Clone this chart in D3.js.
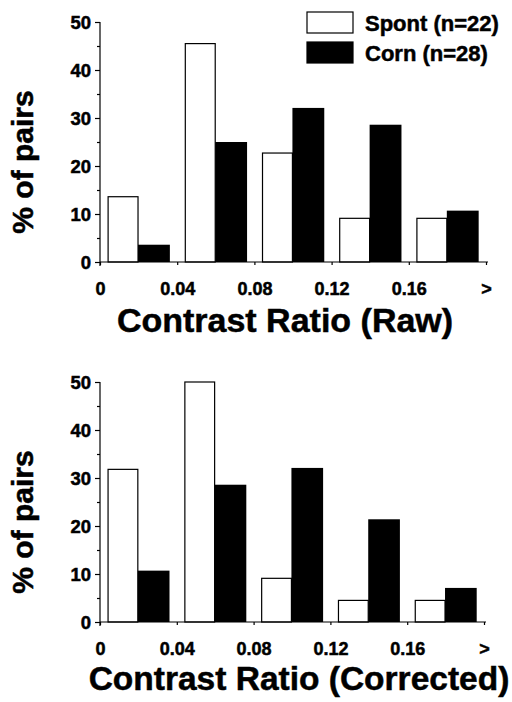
<!DOCTYPE html>
<html>
<head>
<meta charset="utf-8">
<script src="https://cdn.jsdelivr.net/npm/d3@7"></script>
<style>
    body { margin: 0; background: #fff; }
    svg text { font-family: "Liberation Sans", Arial, sans-serif; font-weight: bold; fill: #000; stroke: #000; stroke-width: 0.5px; }
</style>
</head>
<body>
<script>
    // bins start at these contrast ratio values (width 0.04)
    var bins = [0, 0.04, 0.08, 0.12, 0.16];
    var tickValues = [0, 0.04, 0.08, 0.12, 0.16, 0.2];
    var tickLabels = ['0', '0.04', '0.08', '0.12', '0.16', '>'];
    var yTicks = [0, 10, 20, 30, 40, 50];
    var yMinor = [5, 15, 25, 35, 45];

    var rawSpont = [13.6, 45.5, 22.7, 9.1, 9.1];
    var rawCorn = [3.6, 25.0, 32.1, 28.6, 10.7];
    var corSpont = [31.8, 50.0, 9.1, 4.5, 4.5];
    var corCorn = [10.7, 28.6, 32.1, 21.4, 7.1];

    var seriesNames = ['Spont (n=22)', 'Corn (n=28)'];

    var svg = d3.select('body').append('svg')
        .attr('width', 512)
        .attr('height', 702);

    function panel(spont, corn, yTop, yBottom, xRight, title, titleX, titleY, titleSize) {
        var x = d3.scaleLinear().domain([0, 0.2]).range([100, xRight]);
        var y = d3.scaleLinear().domain([0, 50]).range([yBottom, yTop]);
        var g = svg.append('g');

        // white bars then black bars
        g.selectAll('rect.spont')
            .data(bins.map((b, i) => ({b: b, v: spont[i]})))
            .enter().append('rect')
            .attr('class', 'spont')
            .attr('x', d => x(d.b + 0.0042))
            .attr('width', d => x(0.0155) - x(0))
            .attr('y', d => y(d.v))
            .attr('height', d => y(0) - y(d.v))
            .attr('fill', '#fff')
            .attr('stroke', '#000')
            .attr('stroke-width', 1.2);
        g.selectAll('rect.corn')
            .data(bins.map((b, i) => ({b: b, v: corn[i]})))
            .enter().append('rect')
            .attr('class', 'corn')
            .attr('x', d => x(d.b + 0.0197))
            .attr('width', d => x(0.0165) - x(0))
            .attr('y', d => y(d.v))
            .attr('height', d => y(0) - y(d.v))
            .attr('fill', '#000');

        // x axis
        var xAxis = g.append('g')
            .attr('transform', 'translate(0,' + y(0) + ')')
            .call(d3.axisBottom(x).tickValues(tickValues).tickSize(3).tickFormat((d, i) => tickLabels[i]));
        xAxis.select('.domain').attr('d', 'M' + x(0) + ',0H' + (xRight + 2));
        xAxis.selectAll('text')
            .style('font-size', '18px')
            .attr('dy', 0)
            .attr('y', 33);

        // y axis
        var yAxis = g.append('g')
            .attr('transform', 'translate(' + x(0) + ',0)')
            .call(d3.axisLeft(y).tickValues(yTicks).tickSize(5));
        yAxis.select('.domain').attr('d', 'M0,' + y(50) + 'V' + (y(0) + 4));
        yAxis.selectAll('text')
            .style('font-size', '18.5px')
            .attr('dy', '0.36em')
            .attr('x', -9);
        g.append('g')
            .attr('transform', 'translate(' + x(0) + ',0)')
            .call(d3.axisLeft(y).tickValues(yMinor).tickSize(3).tickFormat(''))
            .select('.domain').remove();

        g.selectAll('.domain, .tick line').attr('stroke', '#000').attr('stroke-width', 1.2);

        g.append('text')
            .attr('transform', 'translate(33,' + ((yTop + yBottom) / 2 + 20) + ') rotate(-90)')
            .attr('text-anchor', 'middle')
            .style('font-size', '30px')
            .text('% of pairs');

        g.append('text')
            .attr('x', titleX)
            .attr('y', titleY)
            .attr('text-anchor', 'middle')
            .style('font-size', titleSize + 'px')
            .text(title);
    }

    panel(rawSpont, rawCorn, 22, 262, 486, 'Contrast Ratio (Raw)', 285, 332, 34);
    panel(corSpont, corCorn, 382, 622, 484, 'Contrast Ratio (Corrected)', 299, 690, 33.5);

    // legend
    var legend = svg.append('g');
    legend.selectAll('rect')
        .data(seriesNames)
        .enter().append('rect')
        .attr('x', 307)
        .attr('y', (d, i) => 12 + i * 30)
        .attr('width', 46)
        .attr('height', 21)
        .attr('fill', (d, i) => i === 0 ? '#fff' : '#000')
        .attr('stroke', '#000')
        .attr('stroke-width', 1.2);
    legend.selectAll('text')
        .data(seriesNames)
        .enter().append('text')
        .attr('x', 365)
        .attr('y', (d, i) => 31 + i * 30)
        .style('font-size', '22px')
        .text(d => d);
</script>
</body>
</html>
